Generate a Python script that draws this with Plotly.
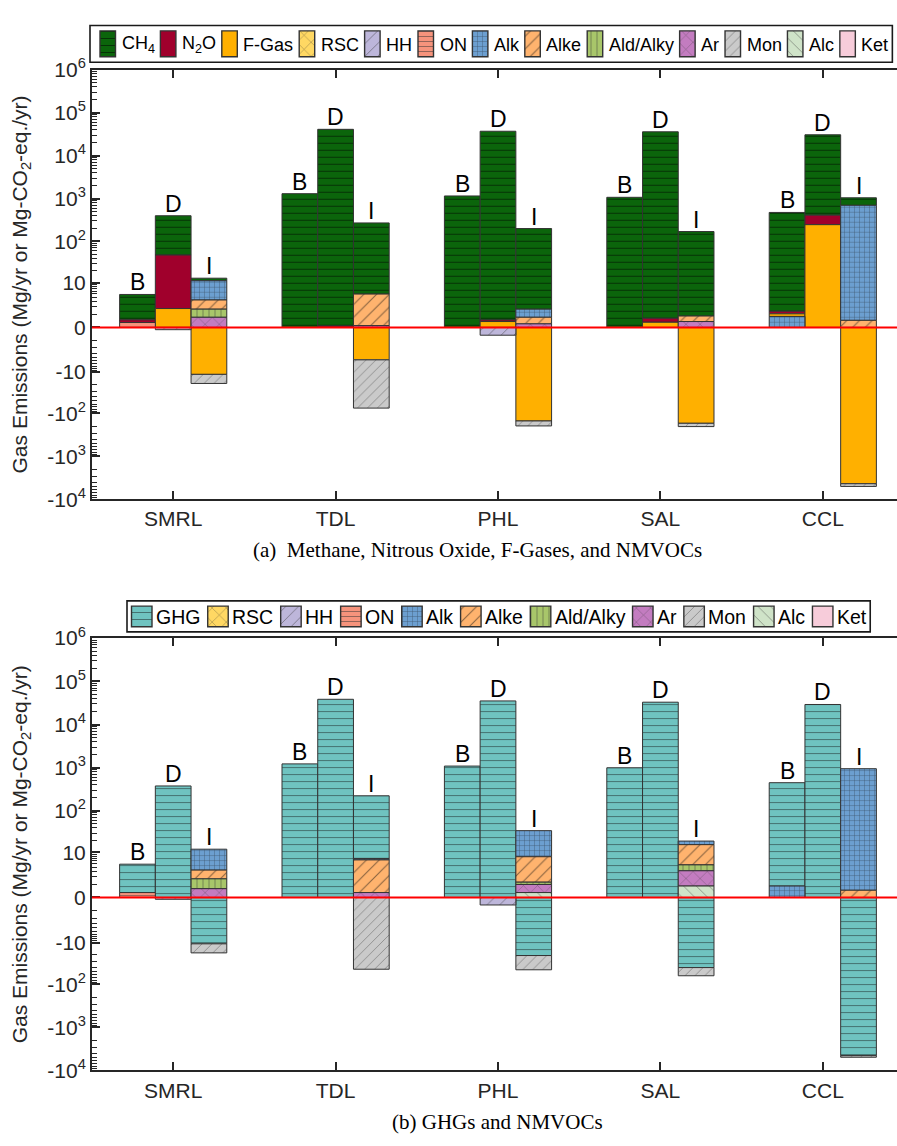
import re
import numpy as np
import plotly.graph_objects as go

# ------------------------------------------------------------------ data
sites = ["SMRL", "TDL", "PHL", "SAL", "CCL"]
scenarios = ["B", "D", "I"]

# bar order (15 bars): SMRL B,D,I | TDL B,D,I | PHL B,D,I | SAL B,D,I | CCL B,D,I
# Panel (a): Methane, Nitrous Oxide, F-Gases, and NMVOCs
a_ch4     = [4.35, 350, 1.8,   1300, 41000, 265,   1150, 37000, 198,   1070, 35900, 169,   473, 30200, 347]
a_n2o     = [0.2, 45.6, 0,     0, 0.08, 0,         0, 0.12, 0,         0, 0.31, 0,         0.31, 164, 0]
a_fgas    = [0, 1.75, -11.4,   0, 0, -4.7,         0, 0.37, -150,      0, 0.32, -170,      0.27, 246, -4370]
a_rsc     = [0, 0, 0,          0, 0, 0,            0, 0, 0,            0, 0, 0,            0, 0, 0]
a_hh      = [0, -0.13, 0,      0, 0, 0,            0, -0.52, 0,        0, 0, 0,            0, 0, 0]
a_on      = [0.3, 0, 0,        0, 0, 0,            0, 0, 0,            0, 0, 0,            0, 0, 0]
a_alk     = [0, 0, 7.85,       0, 0, 0,            0, 0, 0.94,         0, 0, 0,            0.8, 0, 695]
a_alke    = [0, 0, 1.69,       0, 0, 4.87,         0, 0, 0.51,         0, 0, 0.47,         0, 0, 0.46]
a_aldalky = [0, 0, 0.94,       0, 0, 0,            0, 0, 0,            0, 0, 0,            0, 0, 0]
a_ar      = [0, 0, 0.72,       0, 0, 0.1,          0, 0, 0.21,         0, 0, 0.37,         0, 0, 0]
a_mon     = [0, 0, -7.8,       0, 0, -70,          0, 0, -46,          0, 0, -33,          0, 0, -680]
a_alc     = [0, 0, 0,          0, 0, 0,            0, 0, 0,            0, 0, 0,            0, 0, 0]
a_ket     = [0, 0, 0,          0, 0, 0,            0, 0, 0,            0, 0, 0,            0, 0, 0]

# Panel (b): GHGs and NMVOCs
b_ghg     = [4.6, 379, -10.8,  1230, 38400, 217,   1095, 35200, -21,   1000, 32900, -40.8, 450, 29100, -4540]
b_rsc     = [0, 0, 0,          0, 0, 0,            0, 0, 0,            0, 0, 0,            0, 0, 0]
b_hh      = [0, -0.1, 0,       0, 0, 0,            0, -0.49, 0,        0, 0, 0,            0, 0, 0]
b_on      = [0.3, 0, 0,        0, 0, 0,            0, 0, 0,            0, 0, 0,            0, 0, 0]
b_alk     = [0, 0, 8.8,        0, 0, 0.6,          0, 0, 26.4,         0, 0, 3.5,          0.84, 0, 951]
b_alke    = [0, 0, 1.6,        0, 0, 6.1,          0, 0, 6.5,          0, 0, 11.0,         0, 0, 0.47]
b_aldalky = [0, 0, 1.1,        0, 0, 0,            0, 0, 0.26,         0, 0, 1.53,         0, 0, 0]
b_ar      = [0, 0, 0.6,        0, 0, 0.3,          0, 0, 0.7,          0, 0, 2.31,         0, 0, 0]
b_mon     = [0, 0, -7.3,       0, 0, -44.6,        0, 0, -25,          0, 0, -22.8,        0, 0, -410]
b_alc     = [0, 0, 0,          0, 0, 0,            0, 0, 0.3,          0, 0, 0.84,         0, 0, 0]
b_ket     = [0, 0, 0,          0, 0, 0,            0, 0, 0,            0, 0, 0,            0, 0, 0]

a_names = ["CH4", "N2O", "F-Gas", "RSC", "HH", "ON", "Alk", "Alke", "Ald/Alky", "Ar", "Mon", "Alc", "Ket"]
a_labels = ["CH<sub>4</sub>", "N<sub>2</sub>O", "F-Gas", "RSC", "HH", "ON", "Alk", "Alke",
            "Ald/Alky", "Ar", "Mon", "Alc", "Ket"]
a_values = [a_ch4, a_n2o, a_fgas, a_rsc, a_hh, a_on, a_alk, a_alke, a_aldalky, a_ar, a_mon, a_alc, a_ket]

b_names = ["GHG", "RSC", "HH", "ON", "Alk", "Alke", "Ald/Alky", "Ar", "Mon", "Alc", "Ket"]
b_labels = ["GHG", "RSC", "HH", "ON", "Alk", "Alke", "Ald/Alky", "Ar", "Mon", "Alc", "Ket"]
b_values = [b_ghg, b_rsc, b_hh, b_on, b_alk, b_alke, b_aldalky, b_ar, b_mon, b_alc, b_ket]

y_tick_values = [-1e4, -1e3, -1e2, -10, 0, 10, 1e2, 1e3, 1e4, 1e5, 1e6]
y_tick_text = ["-10<sup>4</sup>", "-10<sup>3</sup>", "-10<sup>2</sup>", "-10", "0", "10",
               "10<sup>2</sup>", "10<sup>3</sup>", "10<sup>4</sup>", "10<sup>5</sup>", "10<sup>6</sup>"]

# ------------------------------------------------------------------ styles
# color, pattern shape, pattern fg, pattern size, solidity
STYLE = {
    "CH4":      ("#0B650B", "-", "#000000", 7, 0.14),
    "N2O":      ("#A0002C", "", None, 0, 0),
    "F-Gas":    ("#FFB000", "", None, 0, 0),
    "RSC":      ("#FFD863", "x", "#222222", 10, 0.10),
    "HH":       ("#BDB6DA", "/", "#333333", 9, 0.10),
    "ON":       ("#F6937C", "-", "#333333", 5, 0.20),
    "Alk":      ("#6C9FD0", "+", "#111111", 5, 0.16),
    "Alke":     ("#FFB36E", "/", "#111111", 9, 0.12),
    "Ald/Alky": ("#A8C66A", "|", "#333333", 6, 0.15),
    "Ar":       ("#C37CC0", "x", "#333333", 10, 0.10),
    "Mon":      ("#CACACA", "/", "#444444", 7, 0.12),
    "Alc":      ("#CFE3C8", "\\", "#444444", 9, 0.10),
    "Ket":      ("#F7CCDA", "", None, 0, 0),
    "GHG":      ("#6FC3C0", "-", "#111111", 7, 0.13),
}

FONT = "Liberation Sans, Arial, Helvetica, sans-serif"
SERIF = "Liberation Serif, Times New Roman, serif"
AX = "#262626"
W, H = 897, 1146

def tr(v):
    v = np.asarray(v, dtype=float)
    return np.sign(v) * np.log10(1.0 + np.abs(v))

def marker_for(name, line_w=1.0):
    col, sh, fg, sz, sol = STYLE[name]
    m = dict(color=col, line=dict(color="#333333", width=line_w))
    if sh:
        m["pattern"] = dict(shape=sh, fgcolor=fg, bgcolor=col, size=sz, solidity=sol, fillmode="overlay")
    return m

BAR_W = 0.22
offsets = [-BAR_W, 0.0, BAR_W]
xpos = [i + 1 + off for i in range(len(sites)) for off in offsets]
bar_scen = [s for _ in sites for s in scenarios]

fig = go.Figure()
annotations = []
shapes = []

def add_panel(names, values, xa, ya):
    nb = len(xpos)
    pos_cum = np.zeros(nb)
    neg_cum = np.zeros(nb)
    segs = {n: ([], [], []) for n in names}
    for n, vals in reversed(list(zip(names, values))):
        for j, v in enumerate(vals):
            if v > 0:
                lo = pos_cum[j]; hi = lo + v; pos_cum[j] = hi
                segs[n][0].append(xpos[j]); segs[n][1].append(float(tr(hi) - tr(lo))); segs[n][2].append(float(tr(lo)))
    for n, vals in zip(names, values):
        for j, v in enumerate(vals):
            if v < 0:
                hi = neg_cum[j]; lo = hi + v; neg_cum[j] = lo
                segs[n][0].append(xpos[j]); segs[n][1].append(float(tr(hi) - tr(lo))); segs[n][2].append(float(tr(lo)))
    for n in names:
        xs, hs, bs = segs[n]
        if not xs:
            continue
        fig.add_trace(go.Bar(x=xs, y=hs, base=bs, width=[BAR_W] * len(xs), marker=marker_for(n),
                             xaxis=xa, yaxis=ya, showlegend=False, name=n))
    for j in range(nb):
        annotations.append(dict(x=xpos[j], y=float(tr(pos_cum[j])), xref=xa, yref=ya, text=bar_scen[j],
                                showarrow=False, yanchor="bottom", yshift=-3,
                                font=dict(family=FONT, size=23, color="black")))
    shapes.append(dict(type="line", xref=xa + " domain", yref=ya, x0=0, x1=1, y0=0, y1=0,
                       line=dict(color="#FF0000", width=2), layer="above"))

add_panel(a_names, a_values, "x", "y")
add_panel(b_names, b_values, "x2", "y2")

# ------------------------------------------------------------------ custom legends (pixel coords on x3/y3)
CW = {'A': 667, 'B': 667, 'C': 722, 'D': 722, 'E': 667, 'F': 611, 'G': 778, 'H': 722, 'I': 278, 'K': 667,
      'L': 556, 'M': 833, 'N': 722, 'O': 778, 'P': 667, 'R': 722, 'S': 667, 'V': 667,
      'a': 556, 'c': 500, 'd': 556, 'e': 556, 'g': 556, 'k': 500, 'l': 222, 'n': 556, 'o': 556,
      'q': 556, 'r': 333, 's': 500, 't': 278, 'y': 500, '-': 333, '/': 278, '.': 278, ' ': 278}

def text_width(label, size):
    w = 0.0
    for part in re.split(r"(<sub>.*?</sub>)", label):
        if part.startswith("<sub>"):
            s = part[5:-6]; scale = 0.7
        else:
            s = part; scale = 1.0
        w += sum(CW.get(ch, 556) for ch in s) * size * scale / 1000.0
    return w

def add_legend(names, labels, fsize, sw_w, sw_h, tgap, igap, pad_l, pad_r, y_top, y_bot, left, ty):
    widths = [text_width(l, fsize) for l in labels]
    total = pad_l + pad_r + sum(sw_w + tgap + w for w in widths) + igap * (len(labels) - 1)
    shapes.append(dict(type="rect", xref="x3", yref="y3", x0=left, x1=left + total, y0=y_top, y1=y_bot,
                       line=dict(color="#1a1a1a", width=1.6), fillcolor="rgba(0,0,0,0)", layer="below"))
    yc = (y_top + y_bot) / 2.0
    x = left + pad_l
    for n, l, w in zip(names, labels, widths):
        fig.add_trace(go.Bar(x=[x + sw_w / 2.0], y=[sw_h], base=[yc - sw_h / 2.0], width=[sw_w],
                             marker=marker_for(n, 1.4), xaxis="x3", yaxis="y3", showlegend=False, name=n,
                             hoverinfo="skip"))
        annotations.append(dict(x=x + sw_w + tgap - 2, y=yc + ty, xref="x3", yref="y3", text=l,
                                showarrow=False, xanchor="left", yanchor="middle",
                                font=dict(family=FONT, size=fsize, color="black")))
        x += sw_w + tgap + w + igap

add_legend(a_names, a_labels, 18, 15.5, 26.5, 6, 5.9, 10, 4, 11.7, 49.3, 90, 1)
add_legend(b_names, b_labels, 19.5, 20.5, 21, 4, 7.3, 4.5, 4, 600, 631.7, 127, 1)

# ------------------------------------------------------------------ axes
left_px, right_px = 92, W
unit_px = 162.4
xr = [0.5, 0.5 + (right_px - left_px) / unit_px]
ymin, ymax = float(tr(-1e4)), float(tr(1e6))

minor_vals = []
for k in range(0, 6):
    for m in range(1 if k == 0 else 2, 10):
        v = m * 10 ** k
        if v < 1e6:
            minor_vals.append(float(tr(v)))
        if v < 1e4:
            minor_vals.append(float(tr(-v)))

def xaxis_cfg():
    return dict(domain=[left_px / W, 1], range=xr, tickmode="array", tickvals=list(range(1, 6)),
                ticktext=sites, ticks="inside", ticklen=8, tickwidth=1.5, tickcolor=AX,
                showline=True, linecolor=AX, linewidth=2, mirror="ticks", showgrid=False, zeroline=False,
                tickfont=dict(family=FONT, size=21, color=AX), fixedrange=True)

def yaxis_cfg(top_px, bot_px, anchor):
    return dict(domain=[1 - bot_px / H, 1 - top_px / H], range=[ymin, ymax], tickmode="array",
                tickvals=[float(tr(v)) for v in y_tick_values], ticktext=y_tick_text,
                ticks="inside", ticklen=8, tickwidth=1.5, tickcolor=AX,
                minor=dict(tickmode="array", tickvals=minor_vals, ticks="inside", ticklen=5,
                           tickwidth=1.2, tickcolor=AX, showgrid=False),
                showline=True, linecolor=AX, linewidth=2, mirror=False, showgrid=False, zeroline=False,
                tickfont=dict(family=FONT, size=21, color=AX), anchor=anchor, fixedrange=True)

ya_top, ya_bot = 57, 496
yb_top, yb_bot = 638, 1080

layout = dict(
    width=W, height=H, margin=dict(l=0, r=0, t=0, b=0),
    paper_bgcolor="white", plot_bgcolor="rgba(0,0,0,0)",
    barmode="overlay", showlegend=False,
    xaxis=dict(xaxis_cfg(), anchor="y"),
    yaxis=yaxis_cfg(ya_top, ya_bot, "x"),
    xaxis2=dict(xaxis_cfg(), anchor="y2"),
    yaxis2=yaxis_cfg(yb_top, yb_bot, "x2"),
    xaxis3=dict(domain=[0, 1], range=[0, W], visible=False, fixedrange=True, anchor="y3"),
    yaxis3=dict(domain=[0, 1], range=[H, 0], visible=False, fixedrange=True, anchor="x3"),
)

ytitle = "Gas Emissions (Mg/yr or Mg-CO<sub>2</sub>-eq./yr)"
for top, bot in [(ya_top, ya_bot), (yb_top, yb_bot)]:
    annotations.append(dict(x=21 / W, y=1 - (top + bot) / 2 / H, xref="paper", yref="paper", text=ytitle,
                            textangle=-90, showarrow=False, xanchor="center", yanchor="middle",
                            font=dict(family=FONT, size=21, color=AX)))

annotations.append(dict(x=477 / W, y=1 - 548 / H, xref="paper", yref="paper",
                        text="(a)\u00a0\u00a0Methane, Nitrous Oxide, F-Gases, and NMVOCs",
                        showarrow=False, xanchor="center", yanchor="middle",
                        font=dict(family=SERIF, size=21, color="black")))
annotations.append(dict(x=498 / W, y=1 - 1133 / H, xref="paper", yref="paper",
                        text="(b) GHGs and NMVOCs",
                        showarrow=False, xanchor="center", yanchor="middle",
                        font=dict(family=SERIF, size=21, color="black")))

layout["annotations"] = annotations
layout["shapes"] = shapes
fig.update_layout(**layout)

fig.write_html("out.html")
